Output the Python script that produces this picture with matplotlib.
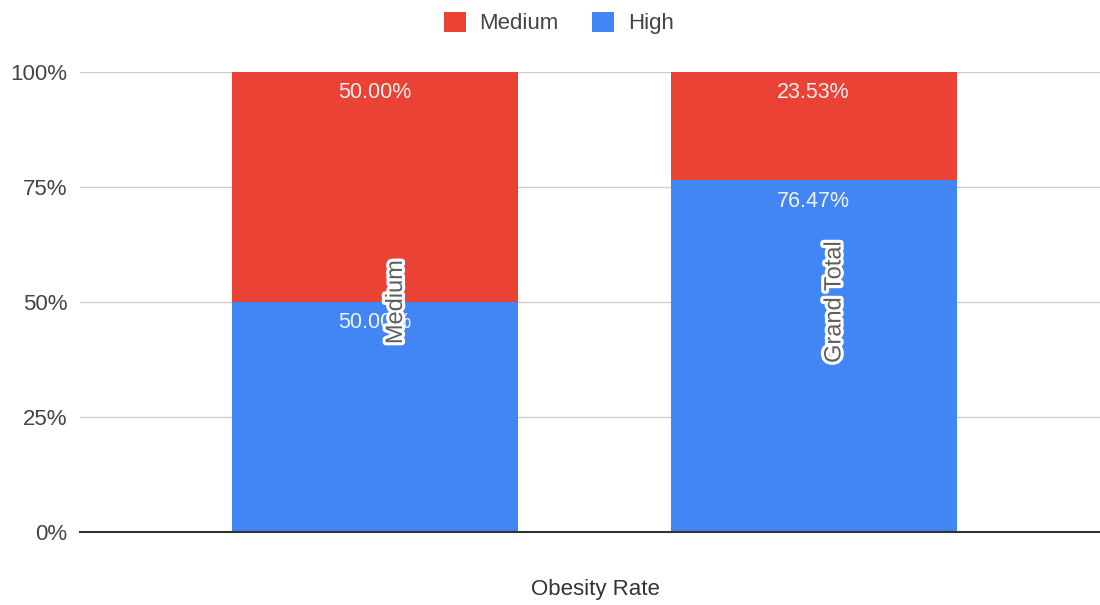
import numpy as np
import matplotlib.pyplot as plt
import matplotlib.patheffects as pe
from matplotlib.ticker import FixedLocator, FuncFormatter

plt.rcParams['font.family'] = ['Liberation Sans', 'DejaVu Sans']

categories = ["Medium", "Grand Total"]
high_pct = [50.00, 76.47]
medium_pct = [50.00, 23.53]
series_names = ["Medium", "High"]

RED = "#EA4335"
BLUE = "#4285F4"

fig = plt.figure(figsize=(11, 6.05), dpi=100)
ax = fig.add_axes([80 / 1100, 1 - 532 / 605, 1020 / 1100, 460 / 605])

x = np.arange(len(categories))
width = 0.652
b_high = ax.bar(x, high_pct, width, color=BLUE, zorder=2, label=series_names[1])
b_med = ax.bar(x, medium_pct, width, bottom=high_pct, color=RED, zorder=2,
               label=series_names[0])

# value labels just under the top of each segment
for i in range(len(categories)):
    for top, val in ((high_pct[i], high_pct[i]),
                     (high_pct[i] + medium_pct[i], medium_pct[i])):
        ax.annotate(f"{val:.2f}%", (x[i], top), textcoords="offset points",
                    xytext=(0, -15), ha="center", va="center",
                    fontsize=15.5, color="white", alpha=0.92, zorder=4)

# category labels drawn rotated inside the bars
for i, cat in enumerate(categories):
    ax.annotate(cat, (x[i], 50), textcoords="offset points",
                xytext=(15, 0), rotation=90, ha="center", va="center",
                fontsize=17, color="#5f5f5f", zorder=5,
                path_effects=[pe.withStroke(linewidth=4.5, foreground="white")])

ax.set_xlim(-0.673, 1.653)
ax.set_ylim(0, 100)
ax.yaxis.set_major_locator(FixedLocator([0, 25, 50, 75, 100]))
ax.yaxis.set_major_formatter(FuncFormatter(lambda v, p: f"{v:.0f}%"))
ax.grid(axis="y", color="#cccccc", lw=1.0, zorder=0)
ax.set_xticks([])
for s in ("top", "right", "left"):
    ax.spines[s].set_visible(False)
ax.spines["bottom"].set_color("#333333")
ax.spines["bottom"].set_linewidth(1.5)
ax.spines["bottom"].set_zorder(3)
ax.tick_params(axis="y", length=0, pad=9, labelsize=16, labelcolor="#444444")

fig.text(595 / 1100, 1 - 590 / 605, "Obesity Rate", ha="center", va="center",
         fontsize=16, color="#333333")

handles = [b_med, b_high]
fig.legend(handles, series_names, loc="center", bbox_to_anchor=(0.508, 0.962),
           ncol=2, frameon=False, fontsize=16, handlelength=1.0,
           handleheight=1.0, columnspacing=1.5, handletextpad=0.6,
           labelcolor="#444444")

fig.savefig("out.png", dpi=100)
